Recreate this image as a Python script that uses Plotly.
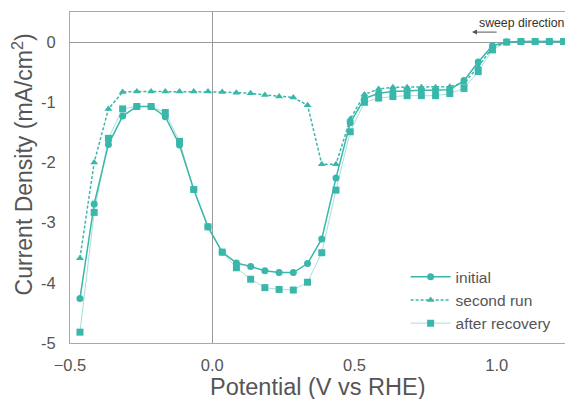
import plotly.graph_objects as go

potential = [-0.465, -0.415, -0.365, -0.315, -0.265, -0.215, -0.165, -0.115, -0.065, -0.015,
             0.035, 0.085, 0.135, 0.185, 0.235, 0.285, 0.335, 0.385, 0.435, 0.485,
             0.535, 0.585, 0.635, 0.685, 0.735, 0.785, 0.835, 0.885, 0.935, 0.985,
             1.035, 1.085, 1.135, 1.185, 1.235]

initial = [-4.26, -2.69, -1.70, -1.23, -1.07, -1.07, -1.24, -1.71, -2.45, -3.07,
           -3.49, -3.67, -3.73, -3.80, -3.83, -3.83, -3.68, -3.27, -2.26, -1.34,
           -0.94, -0.85, -0.82, -0.805, -0.80, -0.80, -0.79, -0.64, -0.33, -0.06,
           0.0, 0.01, 0.01, 0.01, 0.01]

second_run = [-3.59, -2.00, -1.11, -0.83, -0.82, -0.82, -0.82, -0.82, -0.82, -0.82,
              -0.83, -0.84, -0.85, -0.88, -0.905, -0.92, -1.05, -2.03, -2.03, -1.28,
              -0.87, -0.78, -0.75, -0.75, -0.75, -0.75, -0.74, -0.68, -0.41, -0.09,
              0.0, 0.01, 0.01, 0.01, 0.01]

after_recovery = [-4.82, -2.83, -1.60, -1.11, -1.07, -1.07, -1.17, -1.65, -2.45, -3.07,
                  -3.49, -3.75, -3.94, -4.08, -4.11, -4.12, -3.99, -3.50, -2.46, -1.49,
                  -1.00, -0.93, -0.905, -0.89, -0.89, -0.89, -0.855, -0.77, -0.49, -0.13,
                  0.0, 0.01, 0.01, 0.01, 0.01]

x_tickvals = [-0.5, 0.0, 0.5, 1.0]
x_ticktext = ["\u22120.5", "0.0", "0.5", "1.0"]
y_tickvals = [0, -1, -2, -3, -4, -5]
y_ticktext = ["0", "-1", "-2", "-3", "-4", "-5"]

TEAL = "#3ab7ab"
TEAL_LIGHT = "rgba(58,183,171,0.45)"
FONT = "Liberation Sans, Arial, sans-serif"
TXT = "#555555"

fig = go.Figure()
fig.add_trace(go.Scatter(
    x=potential, y=initial, name="initial", mode="lines+markers",
    line=dict(color=TEAL, width=1.5),
    marker=dict(symbol="circle", size=7, color=TEAL)))
fig.add_trace(go.Scatter(
    x=potential, y=second_run, name="second run", mode="lines+markers",
    line=dict(color=TEAL, width=1.5, dash="3px,2px"),
    marker=dict(symbol="triangle-up", size=7, color=TEAL)))
fig.add_trace(go.Scatter(
    x=potential, y=after_recovery, name="after recovery", mode="lines+markers",
    line=dict(color=TEAL_LIGHT, width=1),
    marker=dict(symbol="square", size=7, color=TEAL)))

fig.update_layout(
    width=565, height=399,
    margin=dict(l=70, r=0, t=12, b=56),
    plot_bgcolor="white", paper_bgcolor="white",
    font=dict(family=FONT, color=TXT),
    showlegend=True,
    legend=dict(x=0.678, y=0.25, xanchor="left", yanchor="top",
                font=dict(size=15.5, color=TXT), bgcolor="rgba(0,0,0,0)",
                itemwidth=40),
    xaxis=dict(range=[-0.5, 1.24], tickvals=x_tickvals, ticktext=x_ticktext,
               showgrid=False, showline=True, linecolor="#aaaaaa", linewidth=1, mirror=True,
               zeroline=True, zerolinecolor="#999999", zerolinewidth=1,
               ticks="", ticklabelstandoff=7, tickfont=dict(size=16.5, color=TXT)),
    yaxis=dict(range=[-5, 0.5], tickvals=y_tickvals, ticktext=y_ticktext,
               showgrid=False, showline=True, linecolor="#aaaaaa", linewidth=1, mirror=False,
               zeroline=True, zerolinecolor="#999999", zerolinewidth=1,
               ticks="", ticklabelstandoff=10, tickfont=dict(size=16.5, color=TXT)),
    annotations=[
        dict(text="Potential (V vs RHE)", xref="paper", yref="paper", x=0.5, y=-0.132,
             xanchor="center", yanchor="middle", showarrow=False,
             font=dict(size=23.5, color=TXT)),
        dict(text="Current Density (mA/cm<sup>2</sup>)", xref="paper", yref="paper",
             x=-0.096, y=0.541, xanchor="center", yanchor="middle", textangle=-90,
             showarrow=False, font=dict(size=23, color=TXT)),
        dict(text="sweep direction", xref="x", yref="y", x=1.09, y=0.316,
             xanchor="center", yanchor="middle", showarrow=False,
             font=dict(size=12.3, color="#333333")),
        dict(text="", xref="x", yref="y", x=0.913, y=0.166, axref="x", ayref="y",
             ax=1.005, ay=0.166, showarrow=True, arrowhead=2, arrowsize=1,
             arrowwidth=1, arrowcolor="#555555"),
    ],
)

fig.write_html("out.html")
